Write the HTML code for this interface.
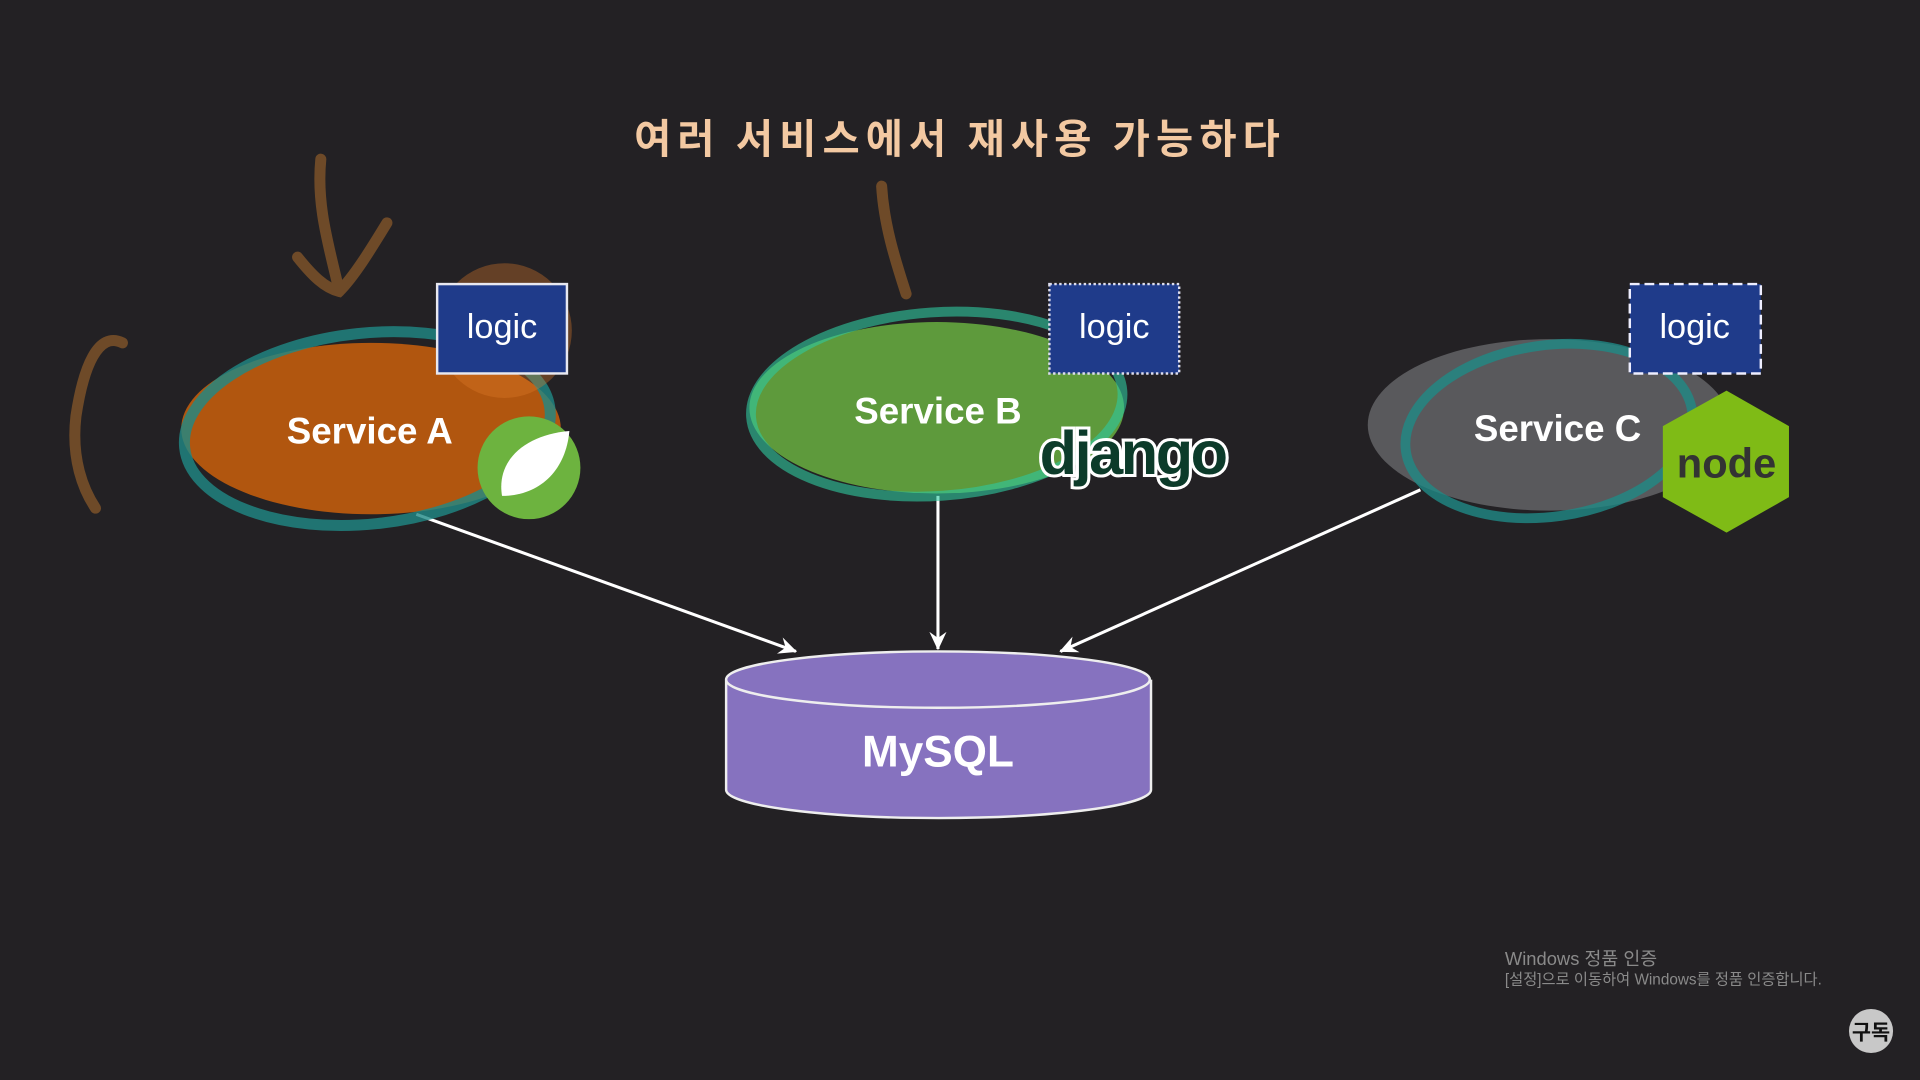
<!DOCTYPE html>
<html><head><meta charset="utf-8"><style>
html,body{margin:0;padding:0;background:#232124;width:1920px;height:1080px;overflow:hidden}
svg{display:block}
text{font-family:"Liberation Sans","Noto Sans CJK KR",sans-serif}
</style></head><body>
<svg width="1920" height="1080" viewBox="0 0 1568 882" xmlns="http://www.w3.org/2000/svg">
<rect width="1568" height="882" fill="#232124"/>
<defs>
<marker id="ah" markerWidth="16" markerHeight="14" refX="14" refY="7" orient="auto" markerUnits="userSpaceOnUse">
<path d="M0,0 L15,7 L0,14 L5,7 Z" fill="#fff"/></marker>
</defs>
<text x="784" y="125" text-anchor="middle" font-size="33" font-weight="bold" fill="#f3c9a2" style="font-family:'Noto Sans CJK KR',sans-serif" letter-spacing="5">여러 서비스에서 재사용 가능하다</text>

<!-- brown strokes -->
<g stroke="#6e4a28" stroke-width="9" fill="none" stroke-linecap="round">
<path d="M262,130 C258,170 270,205 277,238"/>
<path d="M243,210 C255,225 265,235 277,238 C290,225 305,200 316,182"/>
<path d="M720,152 C722,185 732,215 740,240"/>
<path d="M100,280 C80,270 68,300 62,340 C58,375 68,400 78,415"/>
</g>

<!-- arrows -->
<g stroke="#fff" stroke-width="2.5" fill="none" marker-end="url(#ah)">
<line x1="340" y1="420" x2="650" y2="532"/>
<line x1="766" y1="405" x2="766" y2="530"/>
<line x1="1160" y1="400" x2="866" y2="532"/>
</g>

<!-- Service A -->
<ellipse cx="303" cy="350" rx="155" ry="70" fill="#b1560f"/>
<ellipse cx="300" cy="350" rx="150" ry="78" fill="none" stroke="#1f8a86" stroke-width="9" opacity="0.8" transform="rotate(-6 300 350)"/>
<circle cx="412" cy="270" r="55" fill="#e07b2a" opacity="0.35"/>
<rect x="357" y="232" width="106" height="73" fill="#1f3b8a" stroke="#e8e8f0" stroke-width="2"/>
<text x="410" y="276" text-anchor="middle" font-size="28" fill="#fff">logic</text>
<text x="302" y="362" text-anchor="middle" font-size="30" font-weight="bold" fill="#fff">Service A</text>
<circle cx="432" cy="382" r="42" fill="#6db33f"/>
<path d="M410,405 C405,375 430,355 465,352 C462,385 440,405 410,405 Z" fill="#fff"/>

<!-- Service B -->
<ellipse cx="765" cy="333" rx="153" ry="70" fill="#5e9a3c"/>
<ellipse cx="765" cy="330" rx="152" ry="75" fill="none" stroke="#2fc9a0" stroke-width="8" opacity="0.6" transform="rotate(-4 765 330)"/>
<rect x="857" y="232" width="106" height="73" fill="#1f3b8a" stroke="#dde" stroke-width="2" stroke-dasharray="2,2"/>
<text x="910" y="276" text-anchor="middle" font-size="28" fill="#fff">logic</text>
<text x="766" y="346" text-anchor="middle" font-size="30" font-weight="bold" fill="#fff">Service B</text>
<text x="925" y="387" text-anchor="middle" font-size="50" font-weight="bold" fill="#0c3b2a" stroke="#fff" stroke-width="5" paint-order="stroke" letter-spacing="-2">django</text>

<!-- Service C -->
<ellipse cx="1265" cy="347" rx="148" ry="70" fill="#59595c"/>
<ellipse cx="1265" cy="352" rx="118" ry="70" fill="none" stroke="#1f8a86" stroke-width="8" opacity="0.8" transform="rotate(-8 1265 352)"/>
<rect x="1331" y="232" width="107" height="73" fill="#1f3b8a" stroke="#eef" stroke-width="2" stroke-dasharray="8,4"/>
<text x="1384" y="276" text-anchor="middle" font-size="28" fill="#fff">logic</text>
<text x="1272" y="360" text-anchor="middle" font-size="30" font-weight="bold" fill="#fff">Service C</text>
<polygon points="1410,319 1461,348 1461,406 1410,435 1358,406 1358,348" fill="#7fbb16"/>
<text x="1410" y="390" text-anchor="middle" font-size="34" font-weight="bold" fill="#333">node</text>

<!-- MySQL cylinder -->
<path d="M593,555 L593,645 A173,23 0 0 0 940,645 L940,555" fill="#8672bf" stroke="#eee" stroke-width="2"/>
<ellipse cx="766" cy="555" rx="173" ry="23" fill="#8672bf" stroke="#eee" stroke-width="2"/>
<text x="766" y="626" text-anchor="middle" font-size="36" font-weight="bold" fill="#fff">MySQL</text>

<!-- watermark -->
<text x="1229" y="788" font-size="15" fill="#8a8a8a">Windows 정품 인증</text>
<text x="1229" y="804" font-size="12.5" fill="#8a8a8a">[설정]으로 이동하여 Windows를 정품 인증합니다.</text>
<circle cx="1528" cy="842" r="18" fill="#c8c8c8"/>
<text x="1528" y="849" text-anchor="middle" font-size="17" font-weight="bold" fill="#111">구독</text>
</svg>
</body></html>
